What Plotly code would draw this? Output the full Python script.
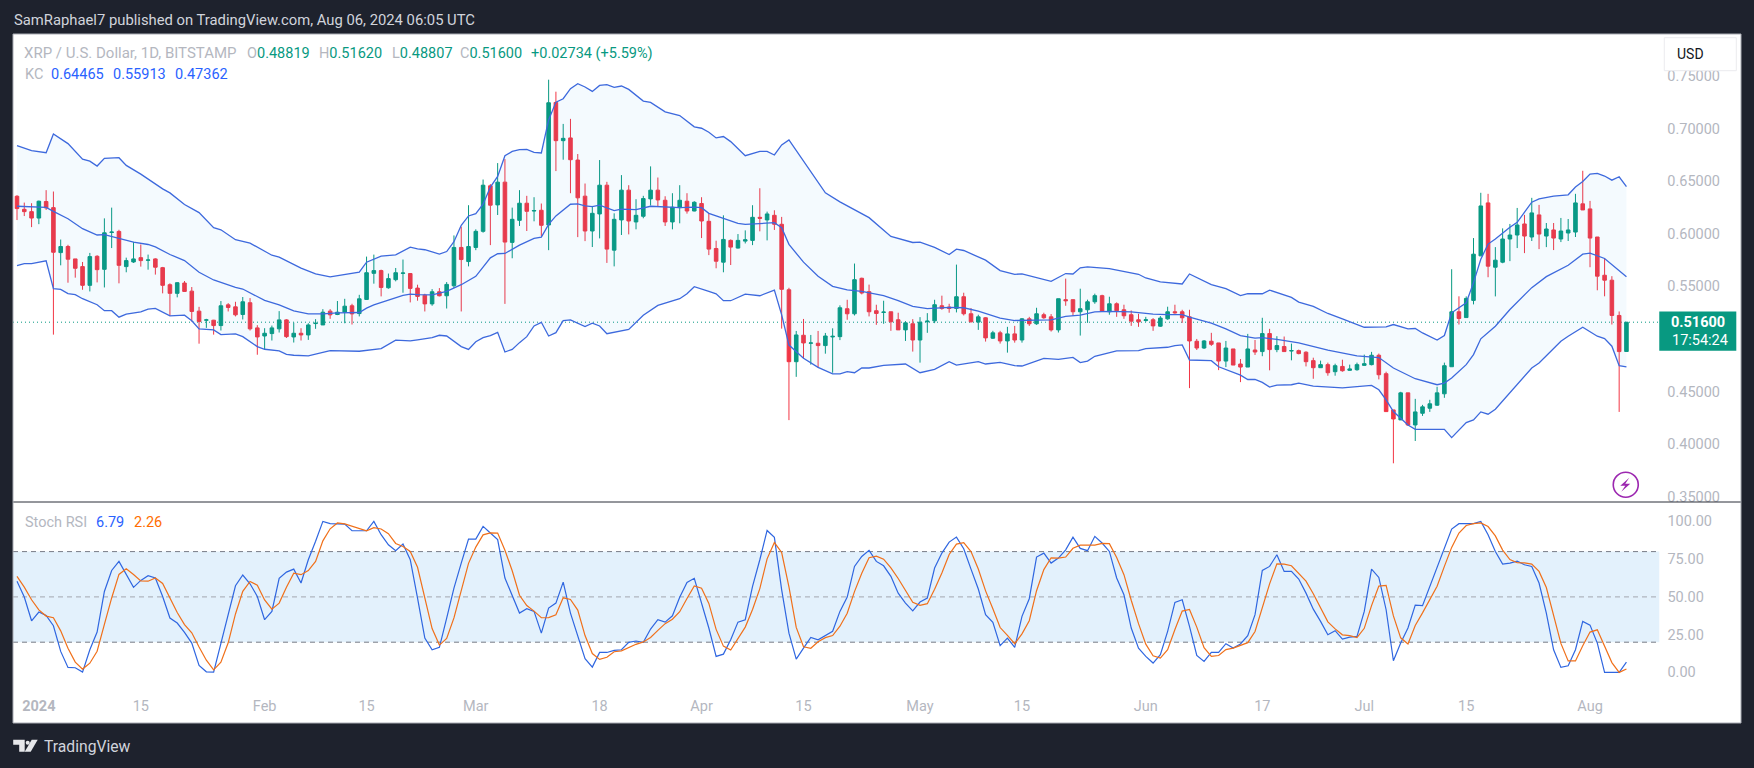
import pandas as pd
import plotly.graph_objects as go

W, H = 1754, 768
L, R, T, B = 13.3, 1740.7, 34.3, 723.3
SEP = 502.3
AXIS_X = 1659.0

first_day = "2023-12-29"
opens = [
.6356,.6232,.6210,.6149,.6306,.6248,.5821,.5879,.5761,.5688,
.5510,.5786,.5662,.6012,.6022,.5688,.5732,.5773,.5748,.5761,
.5678,.5516,.5434,.5532,.5455,.5265,.5179,.5179,.5128,.5325,
.5306,.5233,.5345,.5106,.5029,.5052,.5097,.5182,.5020,.5055,
.5039,.5147,.5134,.5265,.5233,.5255,.5316,.5242,.5376,.5624,
.5650,.5487,.5564,.5624,.5622,.5484,.5417,.5334,.5449,.5411,
.5506,.5870,.5736,.5870,.6023,.6455,.6274,.6490,.5918,.6127,
.6290,.6216,.6223,.6083,.7247,.6884,.6910,.6700,.6357,.6026,
.6188,.6461,.5844,.6131,.6414,.6112,.6166,.6331,.6414,.6318,
.6112,.6248,.6309,.6216,.6287,.6118,.5860,.5730,.5937,.5864,
.5930,.5937,.6156,.6131,.6175,.6090,.5468,.4785,.5036,.4960,
.4960,.4938,.5020,.5023,.5288,.5240,.5577,.5450,.5269,.5253,
.5259,.5183,.5087,.5145,.4991,.5164,.5173,.5316,.5304,.5291,
.5402,.5240,.5161,.5202,.5008,.5059,.4982,.5049,.4991,.5192,
.5145,.5231,.5211,.5087,.5374,.5374,.5259,.5278,.5354,.5412,
.5259,.5335,.5278,.5231,.5183,.5176,.5183,.5122,.5192,.5259,
.5259,.5211,.4979,.4915,.4979,.4963,.4791,.4906,.4763,.4734,
.4896,.4881,.5052,.4900,.4929,.4887,.4890,.4875,.4795,.4728,
.4757,.4690,.4740,.4703,.4709,.4750,.4757,.4846,.4671,.4327,
.4232,.4489,.4184,.4295,.4343,.4372,.4480,.4737,.5259,.5204,
.5367,.5790,.6293,.5682,.5730,.5950,.5988,.6093,.5969,.6179,
.5978,.6036,.5950,.6007,.6016,.6284,.6236,.5969,.5606,.5559,.5224,.48819]
highs = [
.6366,.6296,.6290,.6315,.6414,.6401,.5945,.5895,.5761,.5732,
.5818,.5796,.6146,.6248,.6038,.5773,.5923,.5898,.5802,.5767,
.5685,.5529,.5541,.5551,.5494,.5306,.5192,.5182,.5361,.5341,
.5354,.5399,.5389,.5132,.5103,.5128,.5265,.5189,.5156,.5103,
.5150,.5189,.5284,.5284,.5361,.5382,.5335,.5420,.5783,.5802,
.5659,.5622,.5675,.5755,.5627,.5516,.5430,.5474,.5484,.5541,
.5984,.6067,.6271,.6042,.6515,.6471,.6671,.6709,.6248,.6414,
.6360,.6347,.6287,.7463,.7349,.7043,.7091,.6757,.6477,.6264,
.6700,.6493,.6194,.6557,.6461,.6328,.6360,.6640,.6534,.6356,
.6385,.6461,.6385,.6309,.6347,.6197,.5934,.6175,.5946,.5997,
.6032,.6271,.6432,.6210,.6223,.6160,.5487,.5077,.5191,.5039,
.5077,.5058,.5102,.5320,.5373,.5717,.5583,.5517,.5326,.5364,
.5259,.5250,.5170,.5189,.5208,.5246,.5373,.5412,.5335,.5707,
.5440,.5294,.5231,.5208,.5078,.5078,.5116,.5125,.5199,.5211,
.5297,.5250,.5237,.5383,.5574,.5374,.5478,.5374,.5431,.5421,
.5402,.5348,.5326,.5272,.5240,.5211,.5199,.5218,.5307,.5326,
.5278,.5278,.5001,.4991,.5059,.4963,.4982,.4906,.4810,.5049,
.4991,.5202,.5097,.5027,.5024,.4957,.4900,.4884,.4823,.4795,
.4776,.4766,.4804,.4757,.4776,.4852,.4878,.4862,.4690,.4327,
.4499,.4489,.4432,.4375,.4423,.4547,.4776,.5663,.5406,.5405,
.5959,.6389,.6379,.5873,.6051,.6093,.6245,.6179,.6341,.6274,
.6102,.6102,.6150,.6140,.6379,.6598,.6312,.5969,.5768,.5597,.5262,.51620]
lows = [
.6130,.6168,.6063,.6091,.6226,.5042,.5700,.5535,.5583,.5468,
.5452,.5538,.5490,.5864,.5529,.5634,.5723,.5688,.5659,.5612,
.5434,.5220,.5396,.5449,.5166,.4956,.5106,.5042,.5081,.5262,
.5215,.5186,.5081,.4851,.4903,.4986,.5062,.5010,.4967,.4986,
.4992,.5097,.5134,.5192,.5227,.5150,.5138,.5215,.5373,.5526,
.5405,.5478,.5548,.5440,.5348,.5364,.5262,.5316,.5405,.5290,
.5484,.5262,.5690,.5844,.6010,.5892,.6178,.5334,.5767,.6074,
.6026,.6118,.5978,.5844,.6595,.6703,.6385,.5968,.5930,.5874,
.5956,.5723,.5690,.5988,.5994,.6042,.6147,.6268,.6261,.6074,
.6042,.6099,.6191,.6213,.5959,.5797,.5672,.5634,.5703,.5860,
.5908,.5892,.6023,.5937,.6036,.5099,.4230,.4641,.4817,.4757,
.4728,.4861,.4680,.4990,.5183,.5224,.5424,.5215,.5135,.5145,
.5078,.5087,.4982,.4881,.4776,.5059,.5151,.5278,.5250,.5253,
.5224,.5157,.5087,.4976,.5001,.4957,.4871,.4966,.4966,.5125,
.5135,.5192,.5071,.5062,.5316,.5221,.5033,.5154,.5335,.5259,
.5231,.5211,.5192,.5125,.5116,.5164,.5078,.5116,.5183,.5240,
.5154,.4534,.4896,.4906,.4935,.4705,.4734,.4753,.4591,.4734,
.4849,.4837,.4703,.4875,.4881,.4798,.4855,.4740,.4623,.4725,
.4652,.4652,.4690,.4699,.4699,.4747,.4750,.4617,.4308,.3820,
.4232,.4175,.4032,.4270,.4308,.4365,.4442,.4737,.5138,.5204,
.5329,.5790,.5587,.5405,.5720,.5740,.5864,.5816,.5931,.5854,
.5873,.5845,.5921,.5931,.5969,.6226,.5682,.5463,.5406,.5138,.4308,.48807]
closes = [
.6239,.6210,.6149,.6309,.6245,.5824,.5879,.5758,.5672,.5510,
.5783,.5659,.6009,.6016,.5700,.5745,.5761,.5745,.5751,.5682,
.5510,.5434,.5535,.5452,.5262,.5166,.5182,.5128,.5316,.5300,
.5230,.5354,.5097,.5020,.5055,.5106,.5182,.5023,.5055,.5039,
.5134,.5150,.5255,.5230,.5255,.5312,.5239,.5382,.5630,.5650,
.5490,.5574,.5630,.5627,.5481,.5405,.5334,.5449,.5411,.5519,
.5870,.5755,.5879,.6023,.6461,.6271,.6490,.5921,.6137,.6290,
.6213,.6220,.6080,.7244,.6884,.6906,.6703,.6341,.6026,.6194,
.6461,.5854,.6137,.6414,.6121,.6175,.6334,.6414,.6321,.6112,
.6252,.6318,.6216,.6299,.6121,.5854,.5739,.5946,.5873,.5937,
.5943,.6156,.6147,.6188,.6090,.5472,.4785,.5039,.4963,.4963,
.4938,.5029,.5026,.5297,.5240,.5564,.5437,.5259,.5243,.5256,
.5164,.5087,.5154,.4991,.5160,.5170,.5326,.5291,.5291,.5402,
.5240,.5164,.5211,.5011,.5059,.4982,.5049,.4991,.5192,.5145,
.5240,.5202,.5087,.5383,.5364,.5259,.5288,.5354,.5412,.5265,
.5335,.5269,.5221,.5170,.5164,.5183,.5125,.5199,.5259,.5250,
.5202,.4982,.4915,.4982,.4950,.4791,.4915,.4753,.4734,.4906,
.4877,.5052,.4900,.4938,.4881,.4890,.4862,.4785,.4728,.4757,
.4680,.4747,.4699,.4716,.4757,.4766,.4846,.4661,.4311,.4241,
.4489,.4184,.4308,.4356,.4385,.4489,.4747,.5259,.5195,.5386,
.5806,.6264,.5692,.5749,.5950,.5988,.6083,.5978,.6198,.5997,
.6045,.5959,.6026,.6036,.6293,.6226,.5959,.5597,.5559,.5224,.4881,.51600]

kc_upper_day = [0,1,2,4,5,7,9,10,11,12,14,15,17,20,21,23,25,27,28,30,32,35,36,39,41,43,45,47,48,50,52,54,55,
56,58,59,60,61,62,63,64,65,66,67,68,69,70,71,72,73,74,75,76,77,78,79,80,81,82,83,84,86,87,89,91,93,94,95,96,97,98,100,102,103,104,105,106,108,111,113,
117,120,123,124,126,128,129,130,133,135,137,138,140,142,144,145,146,147,150,154,155,157,160,161,164,166,168,169,171,
172,175,176,178,180,182,185,188,189,191,192,193,195,196,197,198,199,200,201,202,203,205,206,208,209,211,213,214,215,216,217,218,219,220,221]
kc_upper = [.6837,.6814,.6789,.6770,.6948,.6856,.6709,.6690,.6643,.6716,.6722,.6649,.6566,.6426,.6388,.6277,.6201,.6057,.6038,.5943,.5911,.5796,.5777,.5673,.5619,.5590,.5609,.5635,.5730,.5787,.5800,.5873,.5857,
.5848,.5806,.5831,.5924,.6080,.6169,.6191,.6280,.6443,.6544,.6741,.6782,.6798,.6801,.6773,.6767,.7081,.7250,.7282,.7378,.7425,.7394,.7352,.7409,.7416,.7390,.7403,.7371,.7260,.7247,.7158,.7123,.7015,.7002,.6964,.6910,.6923,.6875,.6741,.6782,.6782,.6748,.6843,.6891,.6688,.6389,.6303,
.6153,.5975,.5917,.5921,.5870,.5803,.5854,.5841,.5749,.5650,.5615,.5618,.5580,.5548,.5622,.5618,.5676,.5685,.5669,.5615,.5580,.5542,.5523,.5618,.5517,.5479,.5412,.5431,.5430,
.5465,.5395,.5351,.5310,.5243,.5192,.5112,.5115,.5138,.5097,.5100,.5058,.4991,.5033,.5249,.5297,.5345,.5536,.5758,.5902,.5950,.6061,.6109,.6300,.6332,.6357,.6370,.6443,.6497,.6567,.6573,.6548,.6509,.6541,.64465]

kc_mid_day = [0,4,5,7,9,11,12,14,16,18,19,21,23,25,27,30,31,34,36,38,40,42,44,47,48,49,51,53,54,55,
57,59,61,63,65,66,67,69,71,72,73,74,76,77,78,79,80,82,83,85,87,89,91,93,94,95,97,99,100,102,104,105,106,108,110,112,113,
114,116,119,121,123,125,128,130,132,135,137,140,142,144,146,148,150,153,156,158,160,161,164,166,168,170,
171,173,176,180,184,187,189,192,195,196,197,199,200,201,203,205,208,210,213,215,216,218,220,221]
kc_mid = [.6261,.6251,.6213,.6143,.6048,.5988,.5991,.5953,.5921,.5898,.5876,.5803,.5745,.5634,.5561,.5491,.5475,.5367,.5325,.5268,.5239,.5239,.5249,.5252,.5294,.5325,.5370,.5415,.5427,.5421,
.5420,.5452,.5516,.5596,.5771,.5810,.5813,.5892,.5956,.5968,.6089,.6169,.6280,.6284,.6265,.6258,.6271,.6220,.6233,.6230,.6261,.6255,.6248,.6252,.6248,.6194,.6147,.6099,.6089,.6096,.6105,.6058,.5899,.5730,.5596,.5500,.5484,
.5466,.5453,.5412,.5364,.5310,.5288,.5300,.5297,.5265,.5199,.5176,.5179,.5183,.5215,.5227,.5259,.5262,.5259,.5237,.5231,.5231,.5208,.5151,.5097,.5033,.5008,
.5014,.4996,.4964,.4894,.4840,.4824,.4725,.4623,.4566,.4582,.4630,.4757,.4852,.5002,.5122,.5281,.5488,.5593,.5701,.5806,.5816,.5765,.5647,.55913]

kc_lower_day = [0,1,2,4,5,6,7,8,9,10,11,12,13,14,15,17,18,19,21,23,24,25,27,28,30,31,33,34,36,37,38,40,43,47,50,52,54,55,
57,58,59,61,62,63,64,65,66,67,68,69,70,71,72,73,74,75,76,78,79,80,81,84,86,88,91,92,93,95,96,97,98,100,102,104,105,106,108,110,112,113,
114,115,116,117,119,122,124,126,128,129,132,133,135,137,138,141,143,145,146,147,148,151,154,155,158,159,160,161,164,165,168,169,170,
171,172,173,175,176,178,182,186,187,188,189,191,192,196,197,199,200,201,202,203,208,209,212,213,215,216,217,218,219,220,221]
kc_lower = [.5697,.5717,.5717,.5743,.5479,.5472,.5431,.5421,.5383,.5352,.5326,.5269,.5269,.5208,.5237,.5259,.5285,.5291,.5221,.5227,.5173,.5097,.5087,.5042,.5049,.5023,.4928,.4903,.4887,.4855,.4846,.4840,.4891,.4884,.4909,.4989,.4983,.4992,
.5013,.5036,.5029,.4928,.4902,.4975,.5013,.5032,.5064,.4877,.4902,.4966,.5023,.5124,.5159,.5029,.5061,.5175,.5182,.5118,.5150,.5124,.5051,.5092,.5226,.5319,.5383,.5430,.5497,.5452,.5430,.5364,.5364,.5427,.5411,.5465,.5230,.4943,.4817,.4731,.4670,.4670,
.4690,.4680,.4725,.4725,.4750,.4763,.4680,.4712,.4785,.4753,.4785,.4763,.4779,.4747,.4744,.4817,.4807,.4826,.4776,.4791,.4836,.4887,.4890,.4909,.4922,.4938,.4944,.4801,.4795,.4737,.4657,.4616,.4616,
.4588,.4544,.4563,.4566,.4582,.4553,.4537,.4560,.4518,.4423,.4311,.4184,.4143,.4143,.4064,.4206,.4232,.4308,.4286,.4333,.4725,.4772,.4979,.5027,.5113,.5074,.5027,.5005,.4932,.4747,.47362]

stoch_k = [60.3,49.9,34.2,40.0,37.7,30.9,13.9,3.3,3.1,0.2,15.0,26.7,53.6,67.5,73.5,64.7,56.3,60.9,64.0,62.5,
50.3,36.0,32.7,26.5,19.4,4.6,0.4,0.2,19.4,39.3,57.4,64.5,58.7,50.3,34.9,40.4,62.3,66.4,68.4,59.2,
74.6,86.8,100,98.5,98.5,98.2,93.8,93.8,93.8,100,91.2,84.5,80.6,85.0,74.6,49.2,22.7,15.0,16.6,36.0,
55.8,72.4,88.3,88.3,96.7,92.3,87.9,62.5,51.4,39.3,42.2,40.4,26.0,42.6,45.9,59.8,39.3,24.9,9.1,3.5,
13.2,13.2,14.6,15.0,19.9,20.8,19.9,28.7,34.9,33.3,37.5,49.7,59.6,62.3,45.5,29.4,10.6,12.1,21.6,33.3,
34.9,57.0,74.6,94.0,89.4,54.7,26.0,8.8,16.1,23.2,21.6,24.3,27.2,40.4,49.9,70.2,76.8,80.8,73.5,70.6,
63.6,52.5,45.9,40.8,46.6,49.2,69.1,79.0,86.3,89.6,81.9,68.4,55.2,38.2,33.1,17.7,22.7,16.6,37.1,48.8,
76.4,79.0,72.4,75.7,81.2,89.6,82.1,80.6,90.1,85.7,80.1,62.5,51.4,29.4,16.1,10.6,6.2,11.7,27.2,46.4,
48.1,30.5,11.3,7.3,13.2,13.2,19.0,16.1,18.8,24.3,38.2,67.5,70.2,77.9,66.9,66.9,61.8,52.5,41.9,33.8,
24.9,27.6,22.1,23.4,23.8,40.4,68.4,62.9,41.5,7.7,19.4,29.4,44.6,44.2,57.0,70.2,83.4,94.9,98.5,98.5,
98.5,100,91.2,80.1,71.7,72.4,73.7,71.3,70.2,59.2,39.3,15.0,3.3,4.4,15.0,33.8,31.3,19.4,0,0,0,6.79]
stoch_d = [63.6,56.5,48.1,41.4,37.3,36.2,27.5,16.0,6.8,2.2,6.1,14.0,31.8,49.3,64.9,68.6,64.8,60.6,60.4,62.5,
58.9,49.6,39.7,31.7,26.2,16.8,8.1,1.7,6.7,19.6,38.7,53.7,60.2,57.8,48.0,41.9,45.9,56.4,65.7,64.7,
67.4,73.5,87.1,95.1,99.0,98.4,96.8,95.3,93.8,95.9,95.0,91.9,85.4,83.4,80.1,69.6,48.8,29.0,18.1,22.5,
36.1,54.7,72.2,83.0,91.1,92.4,92.3,80.9,67.3,51.1,44.3,40.6,36.2,36.3,38.2,49.4,48.3,41.3,24.4,12.5,
8.6,10.0,13.7,14.3,16.5,18.6,20.2,23.1,27.8,32.3,35.2,40.2,48.9,57.2,55.8,45.7,28.5,17.4,14.8,22.3,
30.0,41.7,55.5,75.2,86.0,79.4,56.7,29.8,17.0,16.0,20.3,23.0,24.4,30.6,39.2,53.5,65.6,75.9,77.0,75.0,
69.2,62.2,54.0,46.4,44.4,45.5,55.0,65.8,78.1,85.0,85.9,80.0,68.5,54.0,42.2,29.7,24.5,19.0,25.5,34.2,
54.1,68.1,75.9,75.7,76.4,82.2,84.3,84.1,84.3,85.5,85.3,76.1,64.7,47.8,32.3,18.7,11.0,9.5,15.0,28.4,
40.6,41.7,30.0,16.4,10.6,11.2,15.1,16.1,18.0,19.7,27.1,43.3,58.6,71.9,71.7,70.6,65.2,60.4,52.1,42.7,
33.5,28.8,24.9,24.4,23.1,29.2,44.2,57.2,57.6,37.4,22.9,18.8,31.1,39.4,48.6,57.1,70.2,82.8,92.3,97.3,
98.5,99.0,96.6,90.4,81.0,74.7,72.6,72.5,71.7,66.9,56.2,37.8,19.2,7.6,7.6,17.7,26.7,28.2,16.9,6.5,0,2.26]

last_close = 0.516
price_ticks = [0.35, 0.40, 0.45, 0.55, 0.60, 0.65, 0.70, 0.75]
stoch_ticks = [0, 25, 50, 75, 100]
stoch_tick_text = ["0.00\u2007\u2007", "25.00\u2007", "50.00\u2007", "75.00\u2007", "100.00"]
stoch_levels = [80, 50, 20]
date_tick_days = ["2024-01-01","2024-01-15","2024-02-01","2024-02-15","2024-03-01","2024-03-18","2024-04-01",
                  "2024-04-15","2024-05-01","2024-05-15","2024-06-01","2024-06-17","2024-07-01","2024-07-15","2024-08-01"]
date_tick_text = ["<b>2024</b>","15","Feb","15","Mar","18","Apr","15","May","15","Jun","17","Jul","15","Aug"]

GREEN, RED = "#089981", "#f23645"
BAND = "#3d69dd"
K_C, D_C = "#2f66e0", "#f0701a"
GREY = "#b4b7bf"
DARK = "#1e222d"
BLUE_TXT, ORANGE_TXT = "#2962ff", "#ff6d00"
FONT = "Roboto"
TICK = 14.5

days = pd.date_range(first_day, periods=len(closes), freq="D")
def day(lst):
    return [days[i] for i in lst]

def fx(px): return (px - L) / (R - L)
def fy(py): return (B - py) / (B - T)

fig = go.Figure()
fig.add_trace(go.Scatter(x=day(kc_upper_day), y=kc_upper, mode="lines", line=dict(color=BAND, width=1.3),
                         hoverinfo="skip", showlegend=False, yaxis="y"))
fig.add_trace(go.Scatter(x=day(kc_lower_day), y=kc_lower, mode="lines", line=dict(color=BAND, width=1.3),
                         fill="tonexty", fillcolor="rgba(33,150,243,0.05)",
                         hoverinfo="skip", showlegend=False, yaxis="y"))
fig.add_trace(go.Scatter(x=day(kc_mid_day), y=kc_mid, mode="lines", line=dict(color=BAND, width=1.3),
                         hoverinfo="skip", showlegend=False, yaxis="y"))
fig.add_trace(go.Candlestick(x=days, open=opens, high=highs, low=lows, close=closes, yaxis="y",
                             increasing=dict(line=dict(color=GREEN, width=1), fillcolor=GREEN),
                             decreasing=dict(line=dict(color=RED, width=1), fillcolor=RED),
                             whiskerwidth=0, showlegend=False, hoverinfo="skip"))
fig.add_trace(go.Scatter(x=days, y=stoch_k, mode="lines", line=dict(color=K_C, width=1.2),
                         hoverinfo="skip", showlegend=False, yaxis="y2"))
fig.add_trace(go.Scatter(x=days, y=stoch_d, mode="lines", line=dict(color=D_C, width=1.2),
                         hoverinfo="skip", showlegend=False, yaxis="y2"))

shapes = []
ax1 = fx(AXIS_X)
shapes.append(dict(type="rect", xref="paper", yref="y2", x0=0, x1=ax1, y0=stoch_levels[2], y1=stoch_levels[0],
                   fillcolor="#e3f1fc", line_width=0, layer="below"))
for lv, col in zip(stoch_levels, ["#787b86", "#a3a6af", "#787b86"]):
    shapes.append(dict(type="line", xref="paper", yref="y2", x0=0, x1=ax1, y0=lv, y1=lv,
                       line=dict(color=col, width=1, dash="5px,4px"), layer="below"))
shapes.append(dict(type="line", xref="paper", yref="y", x0=0, x1=ax1, y0=last_close, y1=last_close,
                   line=dict(color=GREEN, width=1, dash="1px,3px"), layer="below"))
shapes.append(dict(type="line", xref="paper", yref="paper", x0=0, x1=1, y0=fy(SEP), y1=fy(SEP),
                   line=dict(color="#2a2e39", width=1), layer="above"))
shapes.append(dict(type="rect", xref="paper", yref="paper", x0=0, x1=1, y0=0, y1=1,
                   line=dict(color="#a9acb4", width=1), layer="above"))
shapes.append(dict(type="rect", xref="paper", yref="paper", x0=fx(1659), x1=fx(1736), y0=fy(351), y1=fy(311.7),
                   fillcolor=GREEN, line_width=0, layer="above"))
shapes.append(dict(type="path", xref="paper", yref="paper",
                   path="M{0},{1} L{2},{1} L{2},{3} L{0},{3} Z".format(fx(1664), fy(38), fx(1736), fy(71)),
                   fillcolor="#ffffff", line=dict(color="#ebebee", width=1), layer="above"))
shapes.append(dict(type="circle", xref="paper", yref="paper", x0=fx(1613), x1=fx(1638), y0=fy(497.5), y1=fy(472.5),
                   fillcolor="rgba(0,0,0,0)", line=dict(color="#9c27b0", width=1.6), layer="above"))
bolt = [(1629, 478), (1620, 486), (1625, 486), (1621, 492), (1630, 484), (1625, 484)]
shapes.append(dict(type="path", xref="paper", yref="paper",
                   path="M" + " L".join(f"{fx(a):.5f},{fy(b):.5f}" for a, b in bolt) + " Z",
                   fillcolor="#9c27b0", line_width=0, layer="above"))
def poly(pts, color="#e6e7ea"):
    return dict(type="path", xref="paper", yref="paper",
                path="M" + " L".join(f"{fx(a):.5f},{fy(b):.5f}" for a, b in pts) + " Z",
                fillcolor=color, line_width=0, layer="above")
shapes.append(poly([(13.5, 740), (25, 740), (25, 752), (19.5, 752), (19.5, 745), (13.5, 745)]))
shapes.append(dict(type="circle", xref="paper", yref="paper", x0=fx(26), x1=fx(30), y0=fy(745), y1=fy(741),
                   fillcolor="#e6e7ea", line_width=0, layer="above"))
shapes.append(poly([(32, 740), (38, 740), (31, 752), (25, 752)]))

def note(x, y, text, size=14.5, color=GREY, anchor="left", family=FONT):
    return dict(xref="paper", yref="paper", x=fx(x), y=fy(y), text=text, showarrow=False, xanchor=anchor,
                yanchor="middle", font=dict(family=family, size=size, color=color), align="left")

def c(t, col):
    return f'<span style="color:{col}">{t}</span>'

annotations = [
    note(12, 20, "SamRaphael7 published on TradingView.com, Aug 06, 2024 06:05 UTC", size=14.8, color="#d1d4dc"),
    note(22, 53.5, "XRP / U.S. Dollar, 1D, BITSTAMP", size=15),
    note(245.5, 53.5, "O" + c("0.48819", GREEN)),
    note(317.4, 53.5, "H" + c("0.51620", GREEN)),
    note(389.7, 53.5, "L" + c("0.48807", GREEN)),
    note(458.5, 53.5, "C" + c("0.51600", GREEN)),
    note(529, 53.5, "+0.02734 (+5.59%)", color=GREEN),
    note(23, 75, "KC"),
    note(49.5, 75, "0.64465", color=BLUE_TXT),
    note(111.6, 75, "0.55913", color=BLUE_TXT),
    note(173, 75, "0.47362", color=BLUE_TXT),
    note(23, 522.7, "Stoch RSI"),
    note(93.8, 522.7, "6.79", color=BLUE_TXT),
    note(132, 522.7, "2.26", color=ORANGE_TXT),
    note(1675, 54.5, "USD", size=14, color="#131722"),
    note(1669, 322.3, "<b>0.51600</b>", size=14.5, color="#ffffff"),
    note(1670, 341, "17:54:24", size=14.5, color="#ffffff"),
    note(42, 746.7, "TradingView", size=15.7, color="#d1d4dc"),
]

x_left = days[0] + pd.Timedelta(days=(L - 17.3) / 7.28)
x_right = days[0] + pd.Timedelta(days=(R - 17.3) / 7.28)

fig.update_layout(
    width=W, height=H,
    autosize=False,
    paper_bgcolor=DARK, plot_bgcolor="#ffffff",
    margin=dict(l=L, r=W - R, t=T, b=H - B, pad=0),
    font=dict(family=FONT, size=TICK, color=GREY),
    showlegend=False,
    xaxis=dict(type="date", range=[x_left, x_right], anchor="y2", showgrid=False, zeroline=False, showline=False,
               tickmode="array", tickvals=date_tick_days, ticktext=date_tick_text, ticks="",
               ticklabelposition="inside", ticklabelstandoff=6,
               tickfont=dict(family=FONT, size=TICK, color=GREY), rangeslider=dict(visible=False)),
    yaxis=dict(domain=[fy(SEP), 1], range=[0.516 - (SEP - 322.5) / 1053, 0.516 + (322.5 - T) / 1053], side="right",
               anchor="x", showgrid=False, zeroline=False, showline=False,
               tickmode="array", tickvals=price_ticks, tickformat=".5f", ticks="",
               ticklabelposition="inside", ticklabeloverflow="allow", ticklabelstandoff=18,
               tickfont=dict(family=FONT, size=TICK, color=GREY)),
    yaxis2=dict(domain=[0, fy(SEP)], range=[(672.7 - B) / 1.51, (672.7 - SEP) / 1.51], side="right",
                anchor="x", showgrid=False, zeroline=False, showline=False,
                tickmode="array", tickvals=stoch_ticks, ticktext=stoch_tick_text, ticks="",
                ticklabelposition="inside", ticklabeloverflow="allow", ticklabelstandoff=26,
                tickfont=dict(family=FONT, size=TICK, color=GREY)),
    shapes=shapes, annotations=annotations,
)

fig.write_html("out.html", config={"displayModeBar": False},
               post_script="document.body.style.margin='0';document.body.style.overflow='hidden';document.body.style.background='#1e222d';")
